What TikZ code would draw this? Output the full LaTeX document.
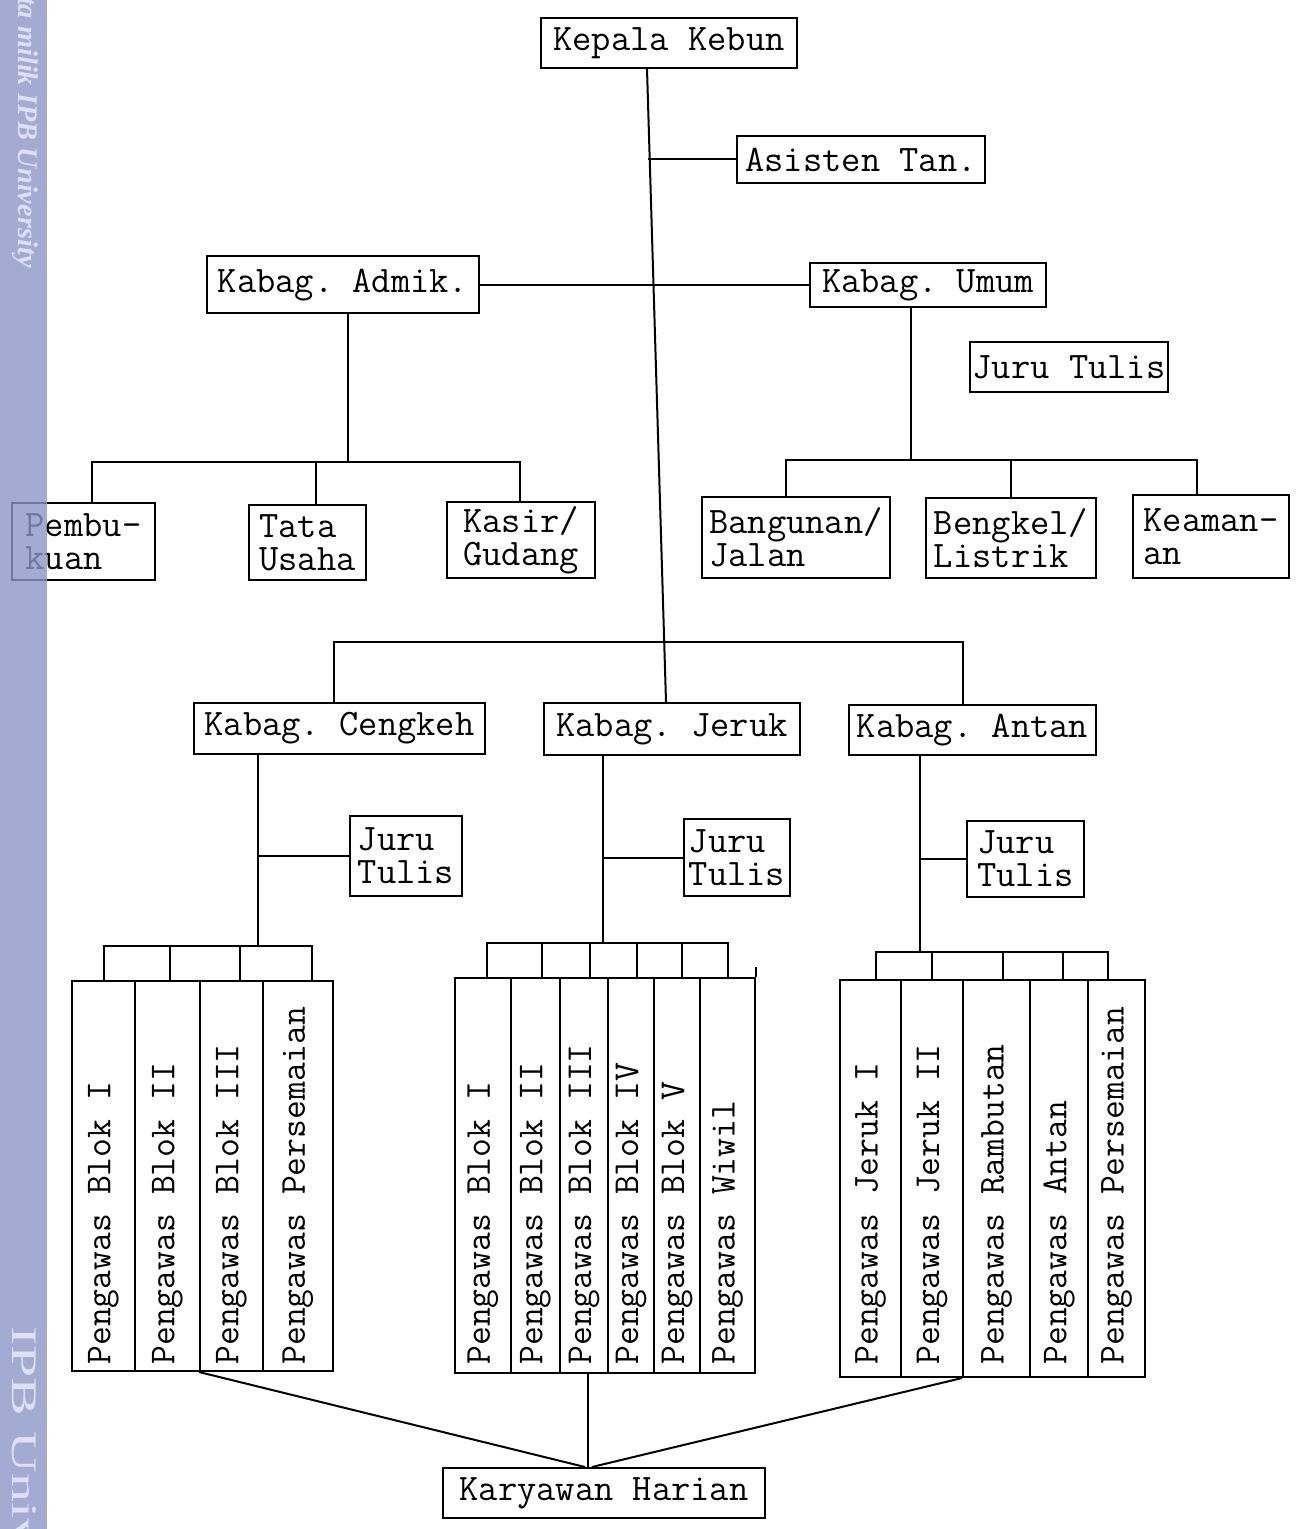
\documentclass[tikz,border=0pt]{standalone}
\usepackage{fontspec}
\newfontfamily\wmfont{Liberation Serif}
\usetikzlibrary{calc}
\frenchspacing
\definecolor{wmstrip}{RGB}{141,150,199}
\definecolor{wmtext}{RGB}{222,225,243}
\newcommand\boxfont{\ttfamily\fontsize{18.7}{16.5}\selectfont}
\newcommand\colfont{\ttfamily\fontsize{18.3}{16}\selectfont}
\tikzset{
  ln/.style={line width=1pt},
  orgbox/.style={draw, line width=1pt, inner sep=0pt, align=left, font=\boxfont},
  colbox/.style={draw, line width=1pt, inner sep=0pt},
  vtext/.style={rotate=90, anchor=west, font=\colfont, inner sep=0pt},
}
\begin{document}
\begin{tikzpicture}[x=0.5pt,y=-0.5pt]
\useasboundingbox (0,0) rectangle (1304,1529);
\fill[white] (0,0) rectangle (1304,1529);

% ---- top level boxes
\node[orgbox, minimum width=128pt, minimum height=25pt] (kk) at (669,43) {Kepala Kebun};
\node[orgbox, minimum width=124pt, minimum height=23.5pt] (as) at (861,159.5) {Asisten Tan.};
\node[orgbox, minimum width=136pt, minimum height=28.5pt] (ad) at (343,285) {Kabag. Admik.};
\node[orgbox, minimum width=118pt, minimum height=22pt] (um) at (928,285) {Kabag. Umum};
\node[orgbox, minimum width=99pt, minimum height=25pt] (jt0) at (1069,367) {Juru Tulis};

\node[orgbox, minimum width=71.5pt, minimum height=38.5pt] (pb) at (83.5,541.5) {Pembu-\\kuan};
\node[orgbox, minimum width=58.5pt, minimum height=37.5pt] (tu) at (307.5,542.5) {Tata\\Usaha};
\node[orgbox, minimum width=74pt, minimum height=38pt] (ku) at (521,540) {Kasir/\\Gudang};
\node[orgbox, minimum width=94pt, minimum height=40.5pt] (bj) at (796,537.5) {Bangunan/\\Jalan};
\node[orgbox, minimum width=85pt, minimum height=40pt] (bl) at (1011,538) {Bengkel/\\Listrik};
\node[orgbox, minimum width=78pt, minimum height=41.5pt] (ke) at (1211,536.5) {Keaman-\\an};

\node[orgbox, minimum width=145.5pt, minimum height=25.5pt] (cg) at (339.5,728.5) {Kabag. Cengkeh};
\node[orgbox, minimum width=128pt, minimum height=26pt] (jr) at (672,729) {Kabag. Jeruk};
\node[orgbox, minimum width=123.5pt, minimum height=25pt] (an) at (972.5,730) {Kabag. Antan};

\node[orgbox, minimum width=56pt, minimum height=40pt] (jt1) at (406,856) {Juru\\Tulis};
\node[orgbox, minimum width=53pt, minimum height=38.5pt] (jt2) at (737,857.5) {Juru\\Tulis};
\node[orgbox, minimum width=58.5pt, minimum height=38pt] (jt3) at (1025.5,859) {Juru\\Tulis};

\node[orgbox, minimum width=161pt, minimum height=25pt] (kh) at (604,1493) {Karyawan Harian};

% ---- column boxes: Cengkeh
\node[colbox, minimum width=31.5pt, minimum height=195pt] (cg1) at (103.5,1176) {};
\node[colbox, minimum width=32.5pt, minimum height=195pt] (cg2) at (167.5,1176) {};
\node[colbox, minimum width=31.5pt, minimum height=195pt] (cg3) at (231.5,1176) {};
\node[colbox, minimum width=35pt, minimum height=195pt] (cg4) at (298,1176) {};
\node[vtext] (tcg1) at (cg1.center |- 0,1365) {Pengawas Blok I};
\node[vtext] (tcg2) at (cg2.center |- 0,1365) {Pengawas Blok II};
\node[vtext] (tcg3) at (cg3.center |- 0,1365) {Pengawas Blok III};
\node[vtext] (tcg4) at (cg4.center |- 0,1365) {Pengawas Persemaian};

% ---- column boxes: Jeruk
\node[colbox, minimum width=28pt, minimum height=197.5pt] (jr1) at (483,1175.5) {};
\node[colbox, minimum width=24.5pt, minimum height=197.5pt] (jr2) at (535.5,1175.5) {};
\node[colbox, minimum width=24pt, minimum height=197.5pt] (jr3) at (584,1175.5) {};
\node[colbox, minimum width=23pt, minimum height=197.5pt] (jr4) at (631,1175.5) {};
\node[colbox, minimum width=23pt, minimum height=197.5pt] (jr5) at (677,1175.5) {};
\node[colbox, minimum width=27.5pt, minimum height=197.5pt] (jr6) at (727.5,1175.5) {};
\node[vtext] (tjr1) at (jr1.center |- 0,1365) {Pengawas Blok I};
\node[vtext] (tjr2) at (jr2.center |- 0,1365) {Pengawas Blok II};
\node[vtext] (tjr3) at (jr3.center |- 0,1365) {Pengawas Blok III};
\node[vtext] (tjr4) at (jr4.center |- 0,1365) {Pengawas Blok IV};
\node[vtext] (tjr5) at (jr5.center |- 0,1365) {Pengawas Blok V};
\node[vtext] (tjr6) at (jr6.center |- 0,1365) {Pengawas Wiwil};

% ---- column boxes: Antan
\node[colbox, minimum width=30.5pt, minimum height=198.5pt] (an1) at (870.5,1178.5) {};
\node[colbox, minimum width=31pt, minimum height=198.5pt] (an2) at (932,1178.5) {};
\node[colbox, minimum width=33.5pt, minimum height=198.5pt] (an3) at (996.5,1178.5) {};
\node[colbox, minimum width=29pt, minimum height=198.5pt] (an4) at (1059,1178.5) {};
\node[colbox, minimum width=28.5pt, minimum height=198.5pt] (an5) at (1116.5,1178.5) {};
\node[vtext] (tan1) at (an1.center |- 0,1365) {Pengawas Jeruk I};
\node[vtext] (tan2) at (an2.center |- 0,1365) {Pengawas Jeruk II};
\node[vtext] (tan3) at (an3.center |- 0,1365) {Pengawas Rambutan};
\node[vtext] (tan4) at (an4.center |- 0,1365) {Pengawas Antan};
\node[vtext] (tan5) at (an5.center |- 0,1365) {Pengawas Persemaian};

% ---- connectors
\draw[ln] ([xshift=-11pt]kk.south) -- ([xshift=-3pt]jr.north);
\draw[ln] (as.west) -- ++(-88,0);
\draw[ln] (ad.east) -- (um.west);

% Admik bracket
\coordinate (adj) at (348,462);
\draw[ln] (ad.south -| adj) -- (adj);
\draw[ln] (pb.north -| 92,0) |- (adj) -| (ku.north -| 520,0);
\draw[ln] (tu.north -| 316,0) -- (316,462);

% Umum bracket
\coordinate (umj) at (911,460);
\draw[ln] (um.south -| umj) -- (umj);
\draw[ln] (bj.north -| 786,0) |- (umj) -| (ke.north -| 1197,0);
\draw[ln] (bl.north) -- (bl.north |- umj);

% main bar to the three Kabag
\draw[ln] (cg.north -| 334,0) -- (334,642) -- (963,642) -- (an.north -| 963,0);

% Cengkeh
\coordinate (cgj) at (258,946);
\draw[ln] (cg.south -| cgj) -- (cgj);
\draw[ln] (jt1.west) -- (jt1.west -| cgj);
\draw[ln] (cg1.north) |- (312,946) -- (cg4.north -| 312,0);
\draw[ln] (170,946) -- (cg2.north -| 170,0);
\draw[ln] (240,946) -- (cg3.north -| 240,0);

% Jeruk
\coordinate (jrj) at (603,943);
\draw[ln] (jr.south -| jrj) -- (jrj);
\draw[ln] (jt2.west) -- (jt2.west -| jrj);
\draw[ln] (jr1.north -| 487,0) |- (728,943) -- (jr6.north -| 728,0);
\draw[ln] (542,943) -- (jr2.north -| 542,0);
\draw[ln] (590,943) -- (jr3.north -| 590,0);
\draw[ln] (637,943) -- (jr4.north -| 637,0);
\draw[ln] (682,943) -- (jr5.north -| 682,0);
\draw[ln] (jr6.north east) -- ++(0,-10);

% Antan
\coordinate (anj) at (920,952);
\draw[ln] (an.south -| anj) -- (anj);
\draw[ln] (jt3.west) -- (jt3.west -| anj);
\draw[ln] (an1.north -| 876,0) |- (1108,952) -- (an5.north -| 1108,0);
\draw[ln] (932,952) -- (an2.north -| 932,0);
\draw[ln] (1003,952) -- (an3.north -| 1003,0);
\draw[ln] (1063,952) -- (an4.north -| 1063,0);

% to Karyawan Harian
\draw[ln] (cg3.south west) -- ([xshift=-9.5pt]kh.north);
\draw[ln] (jr3.south -| 588,0) -- (kh.north -| 588,0);
\draw[ln] (an3.south west) -- ([xshift=-6pt]kh.north);

% ---- watermark strip
\fill[wmstrip, fill opacity=0.8] (0,0) rectangle (47,1529);
\begin{scope}
\clip (0,0) rectangle (47,1529);
\node[rotate=-90, anchor=east, inner sep=0pt, text=wmtext,
  font=\wmfont\bfseries\itshape\fontsize{14.2}{15}\selectfont] (wm1) at (25,268) {Hak cipta milik IPB University};
\node[rotate=-90, yscale=0.62, anchor=west, inner sep=0pt, text=wmtext,
  font=\wmfont\fontsize{29}{30}\selectfont] (wm2) at (21,1326) {IPB University};
\end{scope}
\end{tikzpicture}
\end{document}
